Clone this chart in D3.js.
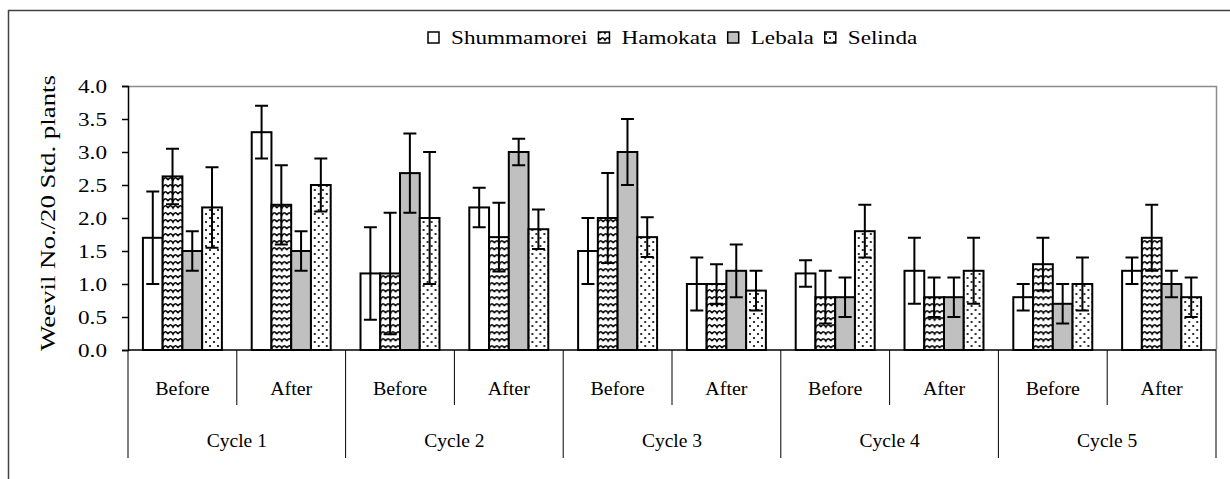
<!DOCTYPE html>
<meta charset="utf-8">
<style>
body {
  margin: 0;
  background: #fff;
}
text {
  font-family: "Liberation Serif", "Times New Roman", serif;
  fill: #000;
}
</style>
<body>
<script src="https://cdn.jsdelivr.net/npm/d3@7/dist/d3.min.js"></script>
<script>

var width = 1230,
    height = 479;

// data
var cycles = ["Cycle 1", "Cycle 2", "Cycle 3", "Cycle 4", "Cycle 5"];
var phases = ["Before", "After"];
var series = ["Shummamorei", "Hamokata", "Lebala", "Selinda"];
var yTicks = [0, 0.5, 1, 1.5, 2, 2.5, 3, 3.5, 4];

var shummamorei = [1.7, 3.3, 1.16, 2.16, 1.5, 1.0, 1.16, 1.2, 0.8, 1.2];
var hamokata    = [2.63, 2.2, 1.16, 1.71, 2.0, 1.0, 0.8, 0.8, 1.3, 1.7];
var lebala      = [1.5, 1.5, 2.68, 3.0, 3.0, 1.2, 0.8, 0.8, 0.7, 1.0];
var selinda     = [2.16, 2.5, 2.0, 1.83, 1.71, 0.9, 1.8, 1.2, 1.0, 0.8];

var shummamoreiErr = [0.7, 0.4, 0.7, 0.3, 0.5, 0.4, 0.2, 0.5, 0.2, 0.2];
var hamokataErr    = [0.42, 0.6, 0.92, 0.52, 0.68, 0.3, 0.4, 0.3, 0.4, 0.5];
var lebalaErr      = [0.3, 0.3, 0.6, 0.2, 0.5, 0.4, 0.3, 0.3, 0.3, 0.2];
var selindaErr     = [0.61, 0.4, 1.0, 0.3, 0.3, 0.3, 0.4, 0.5, 0.4, 0.3];

var values = [shummamorei, hamokata, lebala, selinda];
var errors = [shummamoreiErr, hamokataErr, lebalaErr, selindaErr];
var fills = ["#fff", "url(#wave)", "#c0c0c0", "url(#dots)"];

var slots = [];
cycles.forEach(function(c, ci) {
  phases.forEach(function(p, pi) {
    slots.push({cycle: c, phase: p, i: ci * 2 + pi});
  });
});

var plot = {left: 128, right: 1216, top: 86, bottom: 350};

var x0 = d3.scaleBand()
    .domain(d3.range(slots.length))
    .range([plot.left, plot.right]);

var x1 = d3.scaleBand()
    .domain(series)
    .range([0, x0.bandwidth()])
    .paddingOuter(0.755);

var y = d3.scaleLinear()
    .domain([0, 4])
    .range([plot.bottom, plot.top]);

var svg = d3.select("body").append("svg")
    .attr("width", width)
    .attr("height", height);

var defs = svg.append("defs");

var wave = defs.append("pattern")
    .attr("id", "wave")
    .attr("patternUnits", "userSpaceOnUse")
    .attr("width", 10)
    .attr("height", 7);
wave.append("rect").attr("width", 10).attr("height", 7).attr("fill", "#fff");
wave.append("path")
    .attr("d", "M0,5 Q2.5,0.5 5,5 Q7.5,0.5 10,5")
    .attr("fill", "none")
    .attr("stroke", "#000")
    .attr("stroke-width", 1.6);

var dots = defs.append("pattern")
    .attr("id", "dots")
    .attr("patternUnits", "userSpaceOnUse")
    .attr("width", 8)
    .attr("height", 8);
dots.append("rect").attr("width", 8).attr("height", 8).attr("fill", "#fff");
dots.append("circle").attr("cx", 2).attr("cy", 2).attr("r", 1.1).attr("fill", "#000");
dots.append("circle").attr("cx", 6).attr("cy", 6).attr("r", 1.1).attr("fill", "#000");

// text in the picture is drawn a little wide, so stretch it along x
function wideText(g, x, yy, str, size, sx, anchor) {
  return g.append("text")
      .attr("transform", "translate(" + x + "," + yy + ") scale(" + sx + ",1)")
      .attr("text-anchor", anchor || "middle")
      .style("font-size", size + "px")
      .text(str);
}

// outer frame
svg.append("rect")
    .attr("x", 8.5)
    .attr("y", 10.5)
    .attr("width", 1300)
    .attr("height", 600)
    .attr("fill", "none")
    .attr("stroke", "#404040")
    .attr("stroke-width", 1.5);

// plot area border (top and right, grey)
svg.append("path")
    .attr("d", "M" + plot.left + "," + (plot.top + 0.5) + "H" + (plot.right + 0.5) + "V" + plot.bottom)
    .attr("fill", "none")
    .attr("stroke", "#8c8c8c")
    .attr("stroke-width", 1.5);

// bars
var groups = svg.selectAll(".slot")
    .data(slots)
  .enter().append("g")
    .attr("class", "slot")
    .attr("transform", function(d) { return "translate(" + x0(d.i) + ",0)"; });

series.forEach(function(s, si) {
  groups.append("rect")
      .attr("x", x1(s))
      .attr("y", function(d) { return y(values[si][d.i]); })
      .attr("width", x1.bandwidth())
      .attr("height", function(d) { return y(0) - y(values[si][d.i]); })
      .attr("fill", fills[si])
      .attr("stroke", "#000")
      .attr("stroke-width", 2);
});

// error bars
var cap = 6.5;
series.forEach(function(s, si) {
  groups.append("path")
      .attr("d", function(d) {
        var cx = x1(s) + x1.bandwidth() / 2,
            v = values[si][d.i], e = errors[si][d.i],
            hi = y(v + e), lo = y(v - e);
        return "M" + (cx - cap) + "," + hi + "H" + (cx + cap) +
               "M" + cx + "," + hi + "V" + lo +
               "M" + (cx - cap) + "," + lo + "H" + (cx + cap);
      })
      .attr("fill", "none")
      .attr("stroke", "#000")
      .attr("stroke-width", 2);
});

// y axis
var yAxis = svg.append("g")
    .attr("transform", "translate(" + plot.left + ",0)")
    .call(d3.axisLeft(y).tickValues(yTicks).tickSize(6).tickFormat(d3.format(".1f")));
yAxis.select(".domain").attr("stroke", "#000").attr("stroke-width", 1.5);
yAxis.selectAll(".tick line").attr("stroke", "#000").attr("stroke-width", 1.5);
yAxis.selectAll(".tick text").remove();
yTicks.forEach(function(t) {
  wideText(svg, 107, y(t) + 6.5, d3.format(".1f")(t), 19, 1.22, "end");
});

// baseline
svg.append("line")
    .attr("x1", plot.left).attr("x2", plot.right)
    .attr("y1", plot.bottom).attr("y2", plot.bottom)
    .attr("stroke", "#000").attr("stroke-width", 1.5);

// category dividers
var innerBottom = 405, outerBottom = 458;
d3.range(slots.length + 1).forEach(function(k) {
  var xx = k < slots.length ? x0(k) : plot.right;
  svg.append("line")
      .attr("x1", xx).attr("x2", xx)
      .attr("y1", plot.bottom)
      .attr("y2", k % 2 === 0 ? outerBottom : innerBottom)
      .attr("stroke", "#000")
      .attr("stroke-width", 1);
});

slots.forEach(function(d) {
  wideText(svg, x0(d.i) + x0.bandwidth() / 2, 395, d.phase, 19, 1.05);
});
cycles.forEach(function(c, ci) {
  wideText(svg, x0(ci * 2 + 1), 447, c, 19, 1.03);
});

// y title
svg.append("text")
    .attr("transform", "translate(55," + ((plot.top + plot.bottom) / 2 - 5) + ") rotate(-90)")
    .attr("text-anchor", "middle")
    .attr("textLength", 276)
    .attr("lengthAdjust", "spacingAndGlyphs")
    .style("font-size", "20px")
    .text("Weevil No./20 Std. plants");

// legend
var lx = 428;
series.forEach(function(s, si) {
  svg.append("rect")
      .attr("x", lx).attr("y", 32)
      .attr("width", 11).attr("height", 11)
      .attr("fill", fills[si])
      .attr("stroke", "#000")
      .attr("stroke-width", 1.5);
  var t = wideText(svg, lx + 23, 44, s, 19, 1.22, "start");
  lx = lx + 23 + t.node().getComputedTextLength() * 1.22 + 11;
});

</script>
</body>
